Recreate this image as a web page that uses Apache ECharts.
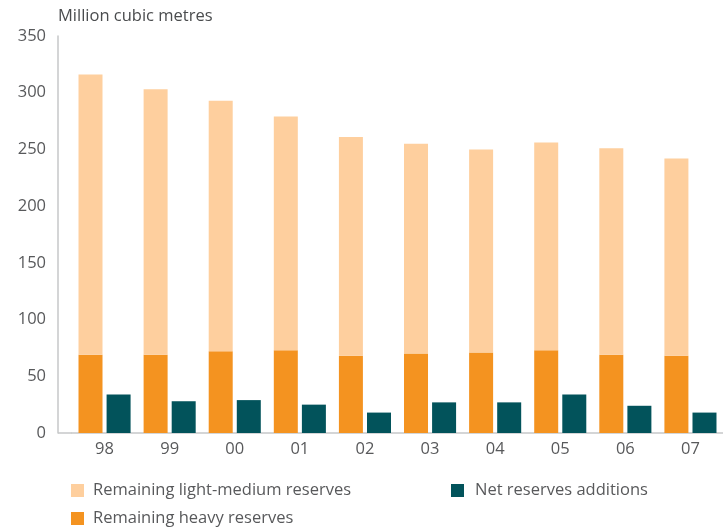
<!DOCTYPE html>
<html>
<head>
<meta charset="utf-8">
<title>Remaining reserves</title>
<script src="https://cdn.jsdelivr.net/npm/echarts@6/dist/echarts.min.js"></script>
<style>
  html, body { margin: 0; padding: 0; background: #ffffff; }
  #chart { width: 723px; height: 527px; }
</style>
</head>
<body>
<div id="chart"></div>
<script>
// Reporting years (two-digit)
const years = ['98', '99', '00', '01', '02', '03', '04', '05', '06', '07'];
// Remaining heavy reserves (million m³)
const heavyReserves = [69, 69, 72, 73, 68, 70, 71, 73, 69, 68];
// Remaining light-medium reserves, stacked on top of heavy (million m³)
const lightMediumReserves = [247, 234, 221, 206, 193, 185, 179, 183, 182, 174];
// Net reserves additions for the year (million m³)
const netAdditions = [34, 28, 29, 25, 18, 27, 27, 34, 24, 18];
// Value axis ticks
const yTicks = [0, 50, 100, 150, 200, 250, 300, 350];

const FONT = '"Open Sans", Lato, sans-serif';
const FONT_SIZE = 16.5;
const AXIS_GRAY = '#c6c7c9';
const TEXT_GRAY = '#58595b';
const GRID_LEFT = 72;
const Y_OFFSET = 14;

const chart = echarts.init(document.getElementById('chart'), null, { renderer: 'canvas' });

const legendText = { fontFamily: FONT, fontSize: FONT_SIZE, color: TEXT_GRAY, padding: [0, 0, 0, 4] };

const option = {
  backgroundColor: '#ffffff',
  animation: false,
  textStyle: { fontFamily: FONT },
  title: {
    text: 'Million cubic metres',
    left: 53,
    top: 3,
    textStyle: { fontFamily: FONT, fontSize: FONT_SIZE, fontWeight: 'normal', color: '#4a4c4e' }
  },
  grid: { left: GRID_LEFT, right: -5, top: 36, bottom: 94, containLabel: false },
  legend: [
    {
      data: ['Remaining light-medium reserves', 'Remaining heavy reserves'],
      orient: 'vertical',
      left: 71,
      top: 482,
      padding: 0,
      icon: 'rect',
      itemWidth: 13,
      itemHeight: 13,
      itemGap: 11,
      textStyle: legendText
    },
    {
      data: ['Net reserves additions'],
      orient: 'vertical',
      left: 451,
      top: 482,
      padding: 0,
      icon: 'rect',
      itemWidth: 13,
      itemHeight: 13,
      textStyle: Object.assign({}, legendText, { padding: [0, 0, 0, 6] })
    }
  ],
  xAxis: {
    type: 'category',
    data: years,
    axisLine: { show: true, lineStyle: { color: AXIS_GRAY, width: 1.5 } },
    axisTick: { show: false },
    axisLabel: { fontFamily: FONT, fontSize: FONT_SIZE, color: TEXT_GRAY, margin: 8 },
    splitLine: { show: false }
  },
  yAxis: {
    type: 'value',
    min: 0,
    max: 350,
    interval: 50,
    offset: Y_OFFSET,
    axisLine: { show: true, lineStyle: { color: AXIS_GRAY, width: 1.5 } },
    axisTick: { show: false },
    axisLabel: {
      fontFamily: FONT, fontSize: FONT_SIZE, color: TEXT_GRAY, margin: 12,
      formatter: v => (yTicks.indexOf(v) >= 0 ? String(v) : '')
    },
    splitLine: { show: false }
  },
  series: [
    {
      name: 'Remaining heavy reserves',
      type: 'bar',
      stack: 'reserves',
      data: heavyReserves,
      barWidth: 24,
      barGap: '17%',
      itemStyle: { color: '#f49320' }
    },
    {
      name: 'Remaining light-medium reserves',
      type: 'bar',
      stack: 'reserves',
      data: lightMediumReserves,
      barWidth: 24,
      barGap: '17%',
      itemStyle: { color: '#fecf9e' }
    },
    {
      name: 'Net reserves additions',
      type: 'bar',
      data: netAdditions,
      barWidth: 24,
      barGap: '17%',
      itemStyle: { color: '#02535b' }
    }
  ]
};

chart.setOption(option);

// Carry the baseline left to meet the offset value axis
const baseY = chart.convertToPixel({ yAxisIndex: 0 }, 0);
chart.setOption({
  graphic: [{
    type: 'line',
    silent: true,
    shape: { x1: GRID_LEFT - Y_OFFSET, y1: baseY, x2: GRID_LEFT, y2: baseY },
    style: { stroke: AXIS_GRAY, lineWidth: 1.5 }
  }]
});
</script>
</body>
</html>
